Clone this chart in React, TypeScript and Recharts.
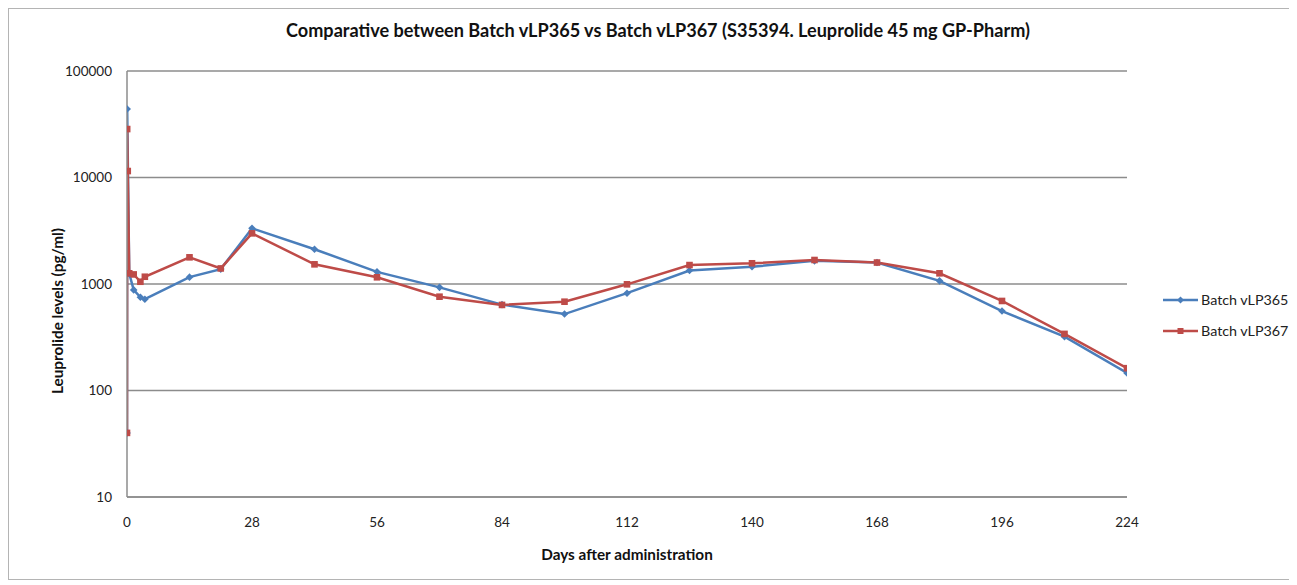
import React from "react";
import { LineChart, Line, XAxis, YAxis, CartesianGrid, Legend, Label } from "recharts";

const days = [0, 0.04, 0.17, 0.5, 1.5, 3, 4, 14, 21, 28, 42, 56, 70, 84, 98, 112, 126, 140, 154, 168, 182, 196, 210, 224];
const batchVLP365 = [40, 44000, null, 1250, 880, 750, 720, 1160, 1380, 3330, 2120, 1300, 930, 640, 522, 820, 1340, 1450, 1650, 1590, 1070, 557, 320, 146];
const batchVLP367 = [40, 28500, 11500, 1260, 1230, 1050, 1170, 1780, 1400, 2990, 1530, 1156, 760, 636, 682, 993, 1506, 1565, 1680, 1590, 1260, 693, 340, 162];
const xTicks = [0, 28, 56, 84, 112, 140, 168, 196, 224];
const yTicks = [10, 100, 1000, 10000, 100000];
const seriesNames = ["Batch vLP365", "Batch vLP367"];
const title = "Comparative between Batch vLP365 vs Batch vLP367 (S35394. Leuprolide 45 mg GP-Pharm)";
const xLabel = "Days after administration";
const yLabel = "Leuprolide levels (pg/ml)";

const BLUE = "#4A7EBB";
const RED = "#BE4B48";
const FONT = "Lato, 'Open Sans', sans-serif";

const data = days.map((d, i) => ({ day: d, a: batchVLP365[i], b: batchVLP367[i] }));

const Diamond = (props: any) => {
  const { cx, cy } = props;
  if (cx == null || cy == null || props.value == null) return null;
  const r = 3.8;
  return <path d={`M${cx},${cy - r}L${cx + r},${cy}L${cx},${cy + r}L${cx - r},${cy}Z`} fill={BLUE} stroke="none" />;
};
const Square = (props: any) => {
  const { cx, cy } = props;
  if (cx == null || cy == null || props.value == null) return null;
  const r = 3.3;
  return <rect x={cx - r} y={cy - r} width={2 * r} height={2 * r} fill={RED} stroke="none" />;
};

const LegendContent = () => (
  <div style={{ fontFamily: FONT, fontSize: 14.3, color: "#222" }}>
    {seriesNames.map((n, i) => (
      <div key={n} style={{ display: "flex", alignItems: "center", height: 31 }}>
        <svg width={36} height={10} style={{ marginRight: 2 }}>
          <line x1={0} y1={5} x2={35} y2={5} stroke={i === 0 ? BLUE : RED} strokeWidth={2.5} />
          {i === 0 ? (
            <path d="M17.5,1.5L21,5L17.5,8.5L14,5Z" fill={BLUE} />
          ) : (
            <rect x={14.5} y={2} width={6} height={6} fill={RED} />
          )}
        </svg>
        <span>{n}</span>
      </div>
    ))}
  </div>
);

const YLabel = (props: any) => {
  const vb = props.viewBox || { x: 0, y: 62, width: 118, height: 426 };
  const cx = vb.x + 48;
  const cy = vb.y + vb.height / 2 + 27;
  return (
    <text
      x={cx}
      y={cy}
      transform={`rotate(-90 ${cx} ${cy})`}
      textAnchor="middle"
      dominantBaseline="central"
      style={{ fontFamily: FONT, fontSize: 15.3, fontWeight: 700, fill: "#111" }}
    >
      {yLabel}
    </text>
  );
};

export default function App() {
  return (
    <div style={{ position: "relative", width: 1280, height: 570, border: "1px solid #b4b4b4", background: "#fff" }}>
      <div
        style={{
          position: "absolute",
          left: 0,
          top: 10,
          width: 1298,
          textAlign: "center",
          fontFamily: FONT,
          fontWeight: 700,
          fontSize: 18.1,
          lineHeight: "22px",
          color: "#111",
        }}
      >
        {title}
      </div>
      <LineChart width={1280} height={570} data={data} margin={{ top: 62, right: 162, bottom: 16, left: 0 }}>
        <CartesianGrid vertical={false} stroke="#8c8c8c" strokeWidth={1.5} />
        <XAxis
          dataKey="day"
          type="number"
          domain={[0, 224]}
          ticks={xTicks}
          tickLine={false}
          axisLine={{ stroke: "#8c8c8c", strokeWidth: 1.5 }}
          height={66}
          tickMargin={14}
          tick={{ fontFamily: FONT, fontSize: 13.5, fill: "#222" }}
          allowDataOverflow
        >
          <Label
            value={xLabel}
            position="insideBottom"
            offset={3}
            style={{ fontFamily: FONT, fontSize: 15.3, fontWeight: 700, fill: "#111" }}
          />
        </XAxis>
        <YAxis
          type="number"
          scale="log"
          domain={[10, 100000]}
          ticks={yTicks}
          tickLine={false}
          axisLine={{ stroke: "#8c8c8c", strokeWidth: 1.5 }}
          width={118}
          tickMargin={9}
          tick={{ fontFamily: FONT, fontSize: 13.5, fill: "#222" }}
          allowDataOverflow
        >
          <Label content={<YLabel />} />
        </YAxis>
        <Legend
          layout="vertical"
          align="center"
          verticalAlign="middle"
          content={<LegendContent />}
          wrapperStyle={{ left: 1154, top: 275, width: 126 }}
        />
        <Line
          dataKey="a"
          name={seriesNames[0]}
          stroke={BLUE}
          strokeWidth={2.5}
          dot={<Diamond />}
          activeDot={false}
          connectNulls
          isAnimationActive={false}
        />
        <Line
          dataKey="b"
          name={seriesNames[1]}
          stroke={RED}
          strokeWidth={2.5}
          dot={<Square />}
          activeDot={false}
          connectNulls
          isAnimationActive={false}
        />
      </LineChart>
    </div>
  );
}
